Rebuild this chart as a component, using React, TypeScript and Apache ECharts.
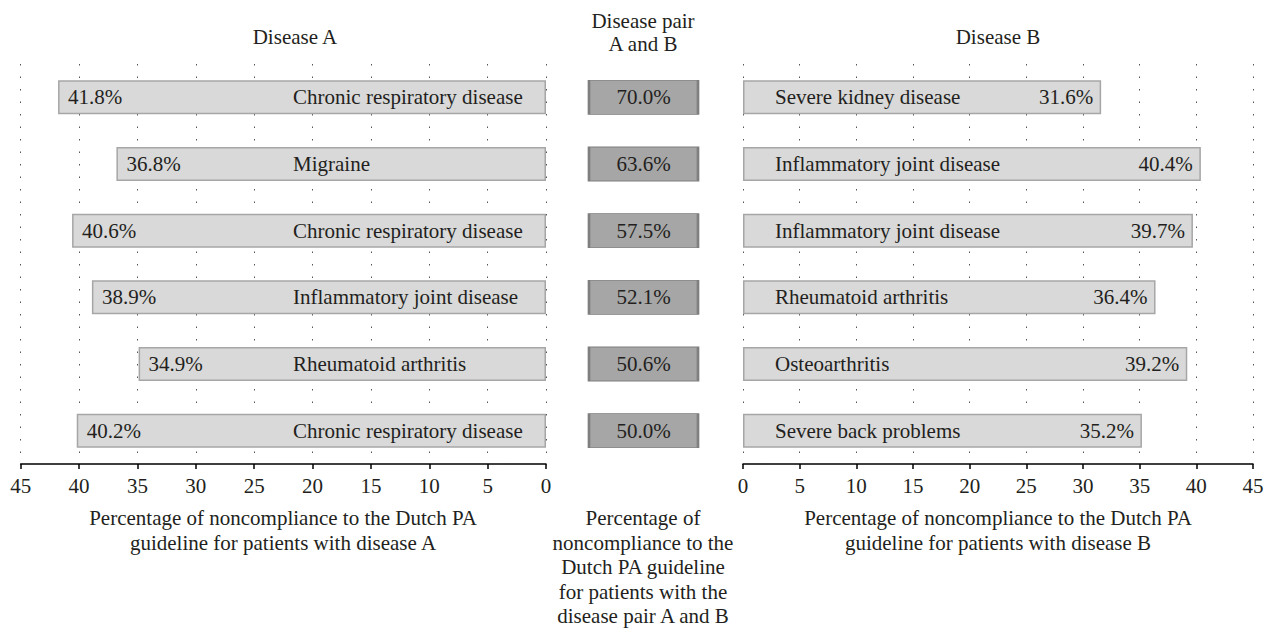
import React, { useEffect, useRef } from "react";
import * as echarts from "echarts";

// ---- data ----
const diseaseA = [
  "Chronic respiratory disease",
  "Migraine",
  "Chronic respiratory disease",
  "Inflammatory joint disease",
  "Rheumatoid arthritis",
  "Chronic respiratory disease",
];
const valuesA = [41.8, 36.8, 40.6, 38.9, 34.9, 40.2];
const pairValues = [70.0, 63.6, 57.5, 52.1, 50.6, 50.0];
const diseaseB = [
  "Severe kidney disease",
  "Inflammatory joint disease",
  "Inflammatory joint disease",
  "Rheumatoid arthritis",
  "Osteoarthritis",
  "Severe back problems",
];
const valuesB = [31.6, 40.4, 39.7, 36.4, 39.2, 35.2];
const rowIds = diseaseA.map((_, i) => String(i));
const axisMin = 0;
const axisMax = 45;
const axisStep = 5;

const titleA = "Disease A";
const titlePair = "Disease pair\nA and B";
const titleB = "Disease B";
const nameA = "Percentage of noncompliance to the Dutch PA\nguideline for patients with disease A";
const namePair =
  "Percentage of\nnoncompliance to the\nDutch PA guideline\nfor patients with the\ndisease pair A and B";
const nameB = "Percentage of noncompliance to the Dutch PA\nguideline for patients with disease B";

const FONT = '"Liberation Serif", "DejaVu Serif", serif';
const TXT = "#231f20";
const FS = 21;

export default function App() {
  const ref = useRef<HTMLDivElement>(null);
  useEffect(() => {
    if (!ref.current) return;
    const chart = echarts.init(ref.current, undefined, { renderer: "svg" });
    const pct = (v: number) => v.toFixed(1) + "%";

    const valueAxis = (grid: number, inverse: boolean) => ({
      gridIndex: grid,
      type: "value",
      min: axisMin,
      max: axisMax,
      interval: axisStep,
      inverse,
      axisLine: { show: true, lineStyle: { color: "#000", width: 1.5 } },
      axisTick: { show: true, length: 5, lineStyle: { color: "#000", width: 1.5 } },
      axisLabel: { color: TXT, fontSize: FS, fontFamily: FONT, margin: 11 },
      splitLine: { show: true, lineStyle: { color: "#555", width: 1, type: [1.5, 11] } },
    });

    const barStyle = { color: "#d9d9d9", borderColor: "#a6a6a6", borderWidth: 1.5 };

    chart.setOption({
      animation: false,
      graphic: [
        { type: "text", style: { text: titleA, x: 295, y: 37, align: "center", verticalAlign: "middle", fontSize: FS, fontFamily: FONT, fill: TXT } },
        { type: "text", style: { text: titlePair, x: 643, y: 32, align: "center", verticalAlign: "middle", lineHeight: 23, fontSize: FS, fontFamily: FONT, fill: TXT } },
        { type: "text", style: { text: titleB, x: 998, y: 37, align: "center", verticalAlign: "middle", fontSize: FS, fontFamily: FONT, fill: TXT } },
        { type: "text", style: { text: nameA, x: 283, y: 506, align: "center", verticalAlign: "top", lineHeight: 24.5, fontSize: FS, fontFamily: FONT, fill: TXT } },
        { type: "text", style: { text: namePair, x: 643, y: 506, align: "center", verticalAlign: "top", lineHeight: 24.5, fontSize: FS, fontFamily: FONT, fill: TXT } },
        { type: "text", style: { text: nameB, x: 998, y: 506, align: "center", verticalAlign: "top", lineHeight: 24.5, fontSize: FS, fontFamily: FONT, fill: TXT } },
      ],
      grid: [
        { left: 20.7, width: 525.3, top: 64, height: 400 },
        { left: 560, width: 167, top: 64, height: 400 },
        { left: 743, width: 510, top: 64, height: 400 },
      ],
      xAxis: [
        valueAxis(0, true),
        { gridIndex: 1, type: "category", data: ["pair"], show: false },
        valueAxis(2, false),
      ],
      yAxis: [
        {
          gridIndex: 0,
          type: "category",
          data: rowIds,
          inverse: true,
          position: "right",
          axisLine: { show: false },
          axisTick: { show: false },
          splitLine: { show: false },
          z: 5,
          axisLabel: {
            inside: true,
            margin: 253,
            align: "left",
            color: TXT,
            fontSize: FS,
            fontFamily: FONT,
            formatter: (_v: string, i: number) => diseaseA[i],
          },
        },
        { gridIndex: 1, type: "category", data: rowIds, inverse: true, show: false },
        {
          gridIndex: 2,
          type: "category",
          data: rowIds,
          inverse: true,
          position: "left",
          axisLine: { show: false },
          axisTick: { show: false },
          splitLine: { show: false },
          z: 5,
          axisLabel: {
            inside: true,
            margin: 32,
            align: "left",
            color: TXT,
            fontSize: FS,
            fontFamily: FONT,
            formatter: (_v: string, i: number) => diseaseB[i],
          },
        },
      ],
      series: [
        {
          type: "bar",
          xAxisIndex: 0,
          yAxisIndex: 0,
          data: valuesA,
          barWidth: 34,
          itemStyle: barStyle,
          label: {
            show: true,
            position: "insideLeft",
            distance: 10,
            color: TXT,
            fontSize: FS,
            fontFamily: FONT,
            formatter: (p: any) => pct(p.value),
          },
        },
        {
          type: "scatter",
          xAxisIndex: 1,
          yAxisIndex: 1,
          symbol: "rect",
          symbolSize: [109, 34],
          data: pairValues.map((v, i) => [0, i, v]),
          itemStyle: { color: "#a6a6a6", borderColor: "#7f7f7f", borderWidth: 1.5, opacity: 1 },
          label: {
            show: true,
            position: "inside",
            color: TXT,
            fontSize: FS,
            fontFamily: FONT,
            formatter: (p: any) => pct(p.value[2]),
          },
        },
        {
          type: "bar",
          xAxisIndex: 2,
          yAxisIndex: 2,
          data: valuesB,
          barWidth: 34,
          itemStyle: barStyle,
          label: {
            show: true,
            position: "insideRight",
            distance: 8,
            color: TXT,
            fontSize: FS,
            fontFamily: FONT,
            formatter: (p: any) => pct(p.value),
          },
        },
      ],
    });
    return () => chart.dispose();
  }, []);
  return (
    <div
      ref={ref}
      style={{ position: "absolute", left: 0, top: 0, width: 1269, height: 630, background: "#fff" }}
    />
  );
}
